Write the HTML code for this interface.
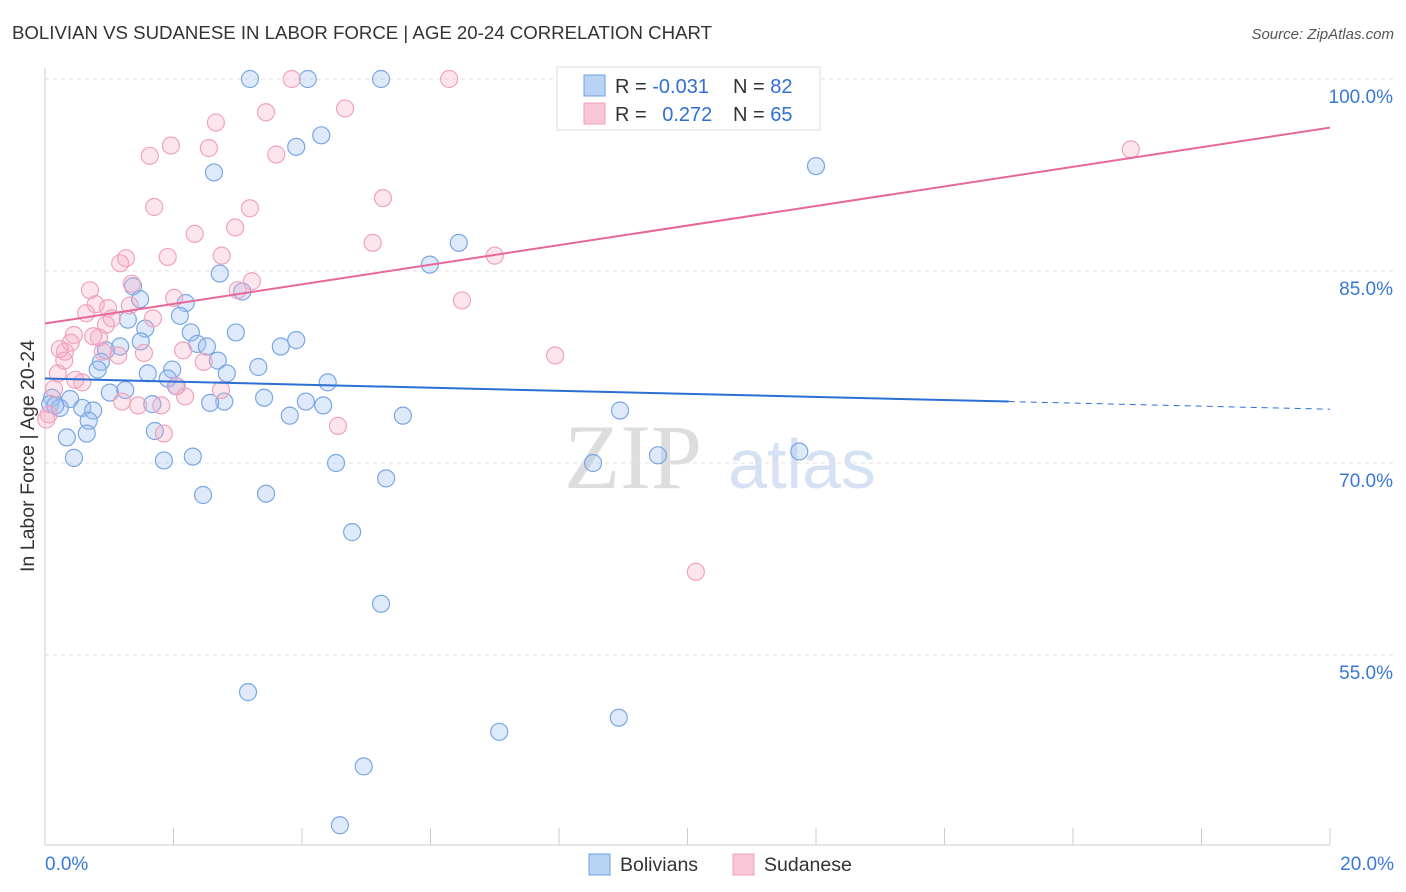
<!DOCTYPE html>
<html><head><meta charset="utf-8">
<style>
body{margin:0;background:#fff;font-family:"Liberation Sans",sans-serif;}
svg{display:block}
</style></head>
<body>
<svg id="chart" width="1406" height="892">
<text x="12" y="39" font-size="18" fill="#333" textLength="700" lengthAdjust="spacingAndGlyphs">BOLIVIAN VS SUDANESE IN LABOR FORCE | AGE 20-24 CORRELATION CHART</text>
<text x="1394" y="39" font-size="15" fill="#555" font-style="italic" text-anchor="end">Source: ZipAtlas.com</text>
<text x="34" y="456" font-size="19" fill="#333" text-anchor="middle" textLength="232" lengthAdjust="spacingAndGlyphs" transform="rotate(-90 34 456)">In Labor Force | Age 20-24</text>
<g>
<text x="633" y="488" font-size="92" fill="#ddd" font-family="Liberation Serif,serif" text-anchor="middle">ZIP</text>
<text x="802" y="488" font-size="70" fill="#d6e2f3" text-anchor="middle">atlas</text>
</g>
<g id="grid"></g>
<g id="marks"></g>
<g>
<rect x="557" y="67" width="263" height="63" fill="#fff" stroke="#ddd"/>
<rect x="584" y="75" width="21" height="21" fill="#b9d3f5" stroke="#6f9fe0"/>
<rect x="584" y="103" width="21" height="21" fill="#f8c6d6" stroke="#f0a0bb"/>
<text x="615" y="93" font-size="20" fill="#333">R = <tspan fill="#2f6fd6">-0.031</tspan></text>
<text x="733" y="93" font-size="20" fill="#333">N = <tspan fill="#2f6fd6">82</tspan></text>
<text x="615" y="121" font-size="20" fill="#333">R = <tspan fill="#2f6fd6" dx="10">0.272</tspan></text>
<text x="733" y="121" font-size="20" fill="#333">N = <tspan fill="#2f6fd6">65</tspan></text>
</g>
<g>
<rect x="589" y="854" width="21" height="21" fill="#b9d3f5" stroke="#6f9fe0"/>
<text x="620" y="871" font-size="19.5" fill="#333">Bolivians</text>
<rect x="733" y="854" width="21" height="21" fill="#f8c6d6" stroke="#f0a0bb"/>
<text x="764" y="871" font-size="19.5" fill="#333">Sudanese</text>
</g>
</svg>
<script>
const yTicks=[100,85,70,55];
const yTickLabels=["100.0%","85.0%","70.0%","55.0%"];
const xTickValues=[0,2,4,6,8,10,12,14,16,18,20];
const xEndLabels=["0.0%","20.0%"];
const bolX=[3.19,4.09,5.23,11.25,4.30,3.91,2.63,12.0,6.44,5.99,2.72,3.07,1.37,1.48,2.19,2.10,1.29,1.56,2.27,2.97,3.91,3.67,1.49,2.37,2.52,1.17,0.95,0.87,0.82,2.69,3.32,1.98,1.91,2.83,1.60,4.40,2.04,1.01,1.25,0.11,0.39,3.41,2.79,4.06,2.57,1.67,0.08,0.23,0.58,0.75,4.33,3.81,5.57,0.68,0.65,1.71,0.34,0.45,1.85,2.30,4.53,8.53,9.54,11.74,5.31,2.46,3.44,4.78,5.23,3.16,8.93,7.07,4.96,4.59,8.95,0.16];
const bolY=[100,100,100,100,95.6,94.7,92.7,93.2,87.2,85.5,84.8,83.4,83.8,82.8,82.5,81.5,81.2,80.5,80.2,80.2,79.6,79.1,79.5,79.3,79.1,79.1,78.8,77.9,77.3,78.0,77.5,77.3,76.6,77.0,77.0,76.3,76.0,75.5,75.7,75.1,75.0,75.1,74.8,74.8,74.7,74.6,74.6,74.3,74.3,74.1,74.5,73.7,73.7,73.3,72.3,72.5,72.0,70.4,70.2,70.5,70.0,70.0,70.6,70.9,68.8,67.5,67.6,64.6,59.0,52.1,50.1,49.0,46.3,41.7,74.1,74.5];
const sudX=[3.84,6.29,4.67,3.44,2.66,1.96,2.55,1.63,3.60,5.26,1.70,3.19,2.96,2.33,5.10,7.00,1.26,1.91,2.75,1.17,3.22,1.35,3.00,0.70,2.01,6.49,0.79,0.64,0.98,1.32,1.68,1.04,0.95,0.45,0.75,0.84,0.40,0.31,0.23,0.90,1.54,2.15,1.14,0.30,7.94,2.47,0.20,0.47,0.58,0.14,2.05,2.74,2.18,1.20,1.45,1.81,4.56,1.85,16.90,10.13,0.06,0.02];
const sudY=[100,100,97.7,97.4,96.6,94.8,94.6,94.0,94.1,90.7,90.0,89.9,88.4,87.9,87.2,86.2,86.0,86.1,86.2,85.6,84.2,84.0,83.5,83.5,82.9,82.7,82.4,81.7,82.1,82.3,81.3,81.3,80.8,80.0,79.9,79.8,79.4,78.7,78.9,78.7,78.6,78.8,78.4,78.0,78.4,77.9,77.0,76.5,76.3,75.8,76.0,75.7,75.2,74.8,74.5,74.5,72.9,72.3,94.5,61.5,73.8,73.4];
const bolTrend=[76.6,74.2];
const bolSolidEnd=15.0;
const sudTrend=[80.9,96.2];

const X=v=>45+v/20*1285;
const Y=v=>79+(100-v)*12.8;
const NS="http://www.w3.org/2000/svg";
function mk(tag,attrs,parent){const e=document.createElementNS(NS,tag);for(const k in attrs)e.setAttribute(k,attrs[k]);parent.appendChild(e);return e;}
const grid=document.getElementById('grid'),marks=document.getElementById('marks');
yTicks.forEach((t,i)=>{
 const l=mk('line',{x1:45,x2:1394,y1:Y(t),y2:Y(t),stroke:'#e2e2e2','stroke-dasharray':'4,4'},grid);
 
 
 const tx=mk('text',{x:1393,y:Y(t)+24,'font-size':19,fill:'#3a78d8','text-anchor':'end'},grid);
 tx.textContent=yTickLabels[i];
 
 
});
const ax=mk('line',{x1:45,x2:45,y1:68,y2:845,stroke:'#ccc'},grid);


const bx=mk('line',{x1:45,x2:1330,y1:845,y2:845,stroke:'#ccc'},grid);


xTickValues.forEach(v=>{
 const t=mk('line',{x1:X(v),x2:X(v),y1:828,y2:845,stroke:'#ccc'},grid);
 
 
});
[[0,'start',45],[20,'end',1394]].forEach((a,i)=>{
 const t=mk('text',{x:a[2],y:870,'font-size':19,fill:'#3a78d8','text-anchor':a[1]},grid);
 t.textContent=xEndLabels[i];
 
 
});
function pts(xs,ys,fill,stroke,name){
 xs.forEach((x,i)=>{
  const c=mk('circle',{cx:X(x),cy:Y(ys[i]),r:8.5,fill:fill,stroke:stroke,'stroke-width':1.2},marks);
  
  
 });
}
pts(bolX,bolY,'rgba(160,196,240,0.35)','#7aa6e4','bolivian-point');
pts(sudX,sudY,'rgba(244,170,196,0.3)','#f0a3bd','sudanese-point');
const bAt=v=>bolTrend[0]+(bolTrend[1]-bolTrend[0])*v/20;
const b1=mk('line',{x1:X(0),y1:Y(bAt(0)),x2:X(bolSolidEnd),y2:Y(bAt(bolSolidEnd)),stroke:'#2b6fd6','stroke-width':2},marks);


const b2=mk('line',{x1:X(bolSolidEnd),y1:Y(bAt(bolSolidEnd)),x2:X(20),y2:Y(bAt(20)),stroke:'#2b6fd6','stroke-width':1,'stroke-dasharray':'6,5'},marks);


const s1=mk('line',{x1:X(0),y1:Y(sudTrend[0]),x2:X(20),y2:Y(sudTrend[1]),stroke:'#e8679a','stroke-width':2},marks);


</script>
</body></html>
